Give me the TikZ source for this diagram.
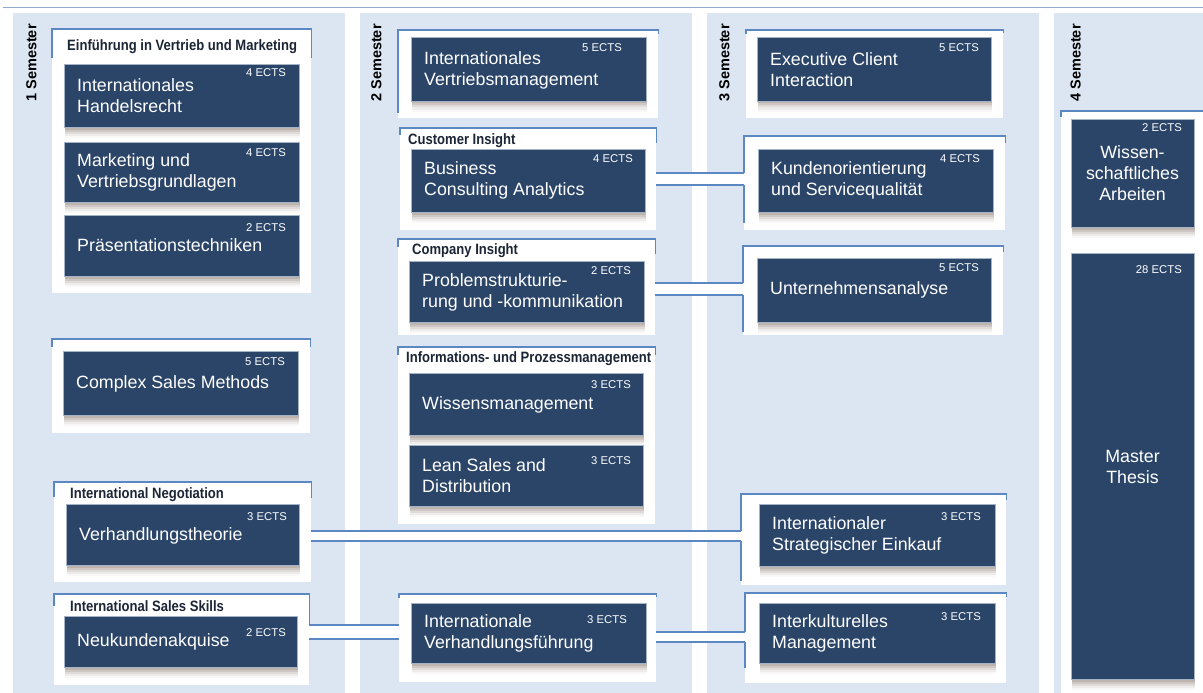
\documentclass[tikz,border=0pt]{standalone}
\usepackage{fontspec}
\setmainfont{Liberation Sans}
\newfontfamily\titlefont[FakeStretch=0.87]{Liberation Sans}
\usetikzlibrary{shadows}
\definecolor{bgblue}{HTML}{DCE6F2}
\definecolor{navy}{HTML}{2B4569}
\definecolor{lineblue}{HTML}{5B87C2}
\definecolor{topline}{HTML}{8EA9CB}
\definecolor{boxedge}{HTML}{A4B3C6}
\definecolor{shadowc}{HTML}{6B5548}
\definecolor{titlec}{HTML}{1C2535}
\tikzset{
  modbox/.style={fill=navy, draw=boxedge, line width=1pt, inner sep=0pt,
    general shadow={shadow xshift=0pt, shadow yshift=-2pt, opacity=0.16, fill=shadowc},
    general shadow={shadow xshift=0pt, shadow yshift=-4pt, opacity=0.14, fill=shadowc},
    general shadow={shadow xshift=0pt, shadow yshift=-6pt, opacity=0.11, fill=shadowc},
    general shadow={shadow xshift=0pt, shadow yshift=-8pt, opacity=0.07, fill=shadowc},
    general shadow={shadow xshift=0pt, shadow yshift=-10pt, opacity=0.04, fill=shadowc}},
  modtext/.style={text=white, font=\fontsize{17.8}{21}\selectfont, align=left, inner sep=0pt},
  ects/.style={text=white, font=\fontsize{11.3}{13}\selectfont, inner sep=0pt},
  panel/.style={fill=white, draw=none, inner sep=0pt, anchor=north west},
  grp/.style={draw=lineblue, line width=1.2pt},
  pipefill/.style={fill=white, draw=none},
  gtitle/.style={font=\titlefont\bfseries\fontsize{15}{17}\selectfont, text=titlec, inner sep=0pt, anchor=base west},
  semlabel/.style={font=\bfseries\fontsize{14.5}{16}\selectfont, rotate=90, inner sep=0pt},
  colbg/.style={fill=bgblue, draw=none},
}
\newcommand\mkmod[9]{%
  \node[modbox, minimum width=#3pt, minimum height=#4pt, anchor=north west] (#1) at (#2) {};
  \node[modtext, anchor=west] (#1t) at ([xshift=13pt,yshift=-#6pt]#1.north west) {#5};
  \node[ects, anchor=east] (#1e) at ([xshift=-#9pt,yshift=-#8pt]#1.north east) {#7};
}
\newcommand\mkpanel[5]{%
  \node[panel, minimum width=#4pt, minimum height=#5pt] (#1) at (#2,#3) {};
}
\begin{document}
\begin{tikzpicture}[x=1pt,y=-1pt]
\useasboundingbox (0,0) rectangle (1203,693);
% top line
\coordinate (tl1) at (3,7.5);
\coordinate (tl2) at (1203,7.5);
\draw[topline, line width=1.8pt] (tl1) -- (tl2);
% column backgrounds
\fill[colbg] (13,13) rectangle (345,693);
\fill[colbg] (360,13) rectangle (692,693);
\fill[colbg] (707,13) rectangle (1039,693);
\fill[colbg] (1054,13) rectangle (1203,693);
% semester labels
\node[semlabel] (s1) at (31.5,63) {1 Semester};
\node[semlabel] (s2) at (376.5,63) {2 Semester};
\node[semlabel] (s3) at (724.5,63) {3 Semester};
\node[semlabel] (s4) at (1075.5,63) {4 Semester};
% panels
\mkpanel{g1}{52}{29}{259}{264}
\mkpanel{g2}{52}{339}{258}{94}
\mkpanel{g3}{54}{482}{257}{100}
\mkpanel{g4}{54}{594}{255}{91}
\mkpanel{g5}{398}{30}{260}{88}
\mkpanel{g6}{400}{128}{256}{102}
\mkpanel{g7}{398}{239}{257}{96}
\mkpanel{g8}{398}{347}{257}{177}
\mkpanel{g9}{399}{594}{257}{88}
\mkpanel{g10}{746}{30}{257}{88}
\mkpanel{g11}{744}{136}{261}{94}
\mkpanel{g12}{743}{246}{260}{89}
\mkpanel{g13}{741}{494}{265}{91}
\mkpanel{g14}{745}{593}{261}{90}
\mkpanel{g15}{1061}{111}{142}{582}
% pipes
\path ([yshift=-45pt]g6.north east) coordinate (p1a);
\path ([yshift=-44pt]g7.north east) coordinate (p2a);
\path ([yshift=-49pt]g3.north east) coordinate (p3a);
\path ([yshift=-31pt]g4.north east) coordinate (p4a);
\path ([yshift=-38pt]g9.north east) coordinate (p5a);
\fill[pipefill] (p1a) rectangle ([yshift=-12pt]p1a -| g11.west);
\fill[pipefill] (p2a) rectangle ([yshift=-12pt]p2a -| g12.west);
\fill[pipefill] (p3a) rectangle ([yshift=-10pt]p3a -| g13.west);
\fill[pipefill] (p4a) rectangle ([yshift=-14pt]p4a -| g9.west);
\fill[pipefill] (p5a) rectangle ([yshift=-10pt]p5a -| g14.west);
% group outlines
\draw[grp] ([yshift=-29pt]g1.north west) -- (g1.north west) -- (g1.north east) -- ++(0,29);
\draw[grp] ([yshift=-8pt]g2.north west) -- (g2.north west) -- (g2.north east) -- ++(0,8);
\draw[grp] ([yshift=-15pt]g3.north west) -- (g3.north west) -- (g3.north east) -- ++(0,16);
\draw[grp] ([yshift=-12pt]g4.north west) -- (g4.north west) -- (g4.north east) -- (p4a);
\draw[grp] ([yshift=-83pt]g5.north west) -- (g5.north west) -- (g5.north east) -- ++(0,4);
\draw[grp] ([yshift=-7pt]g6.north west) -- (g6.north west) -- (g6.north east) -- ++(0,15);
\draw[grp] ([yshift=-8pt]g7.north west) -- (g7.north west) -- (g7.north east) -- ++(0,15);
\draw[grp] ([yshift=-8pt]g8.north west) -- (g8.north west) -- (g8.north east) -- ++(0,8);
\draw[grp] ([yshift=-4pt]g9.north west) -- (g9.north west) -- (g9.north east) -- ++(0,3);
\draw[grp] ([yshift=-4pt]g10.north west) -- (g10.north west) -- (g10.north east) -- ++(0,3);
\draw[grp] (p1a -| g11.west) -- (g11.north west) -- (g11.north east) -- ++(0,7);
\draw[grp] ([yshift=-12pt]p1a -| g11.west) -- ([yshift=-87pt]g11.north west);
\draw[grp] (p2a -| g12.west) -- (g12.north west) -- (g12.north east) -- ++(0,6);
\draw[grp] ([yshift=-12pt]p2a -| g12.west) -- ([yshift=-86pt]g12.north west);
\draw[grp] (p3a -| g13.west) -- (g13.north west) -- (g13.north east) -- ++(0,6);
\draw[grp] ([yshift=-10pt]p3a -| g13.west) -- ([yshift=-87pt]g13.north west);
\draw[grp] (p5a -| g14.west) -- (g14.north west) -- (g14.north east) -- ++(0,4);
\draw[grp] ([yshift=-10pt]p5a -| g14.west) -- ([yshift=-75pt]g14.north west);
\draw[grp] ([yshift=-6pt]g15.north west) -- (g15.north west) -- (g15.north east);
% pipe lines
\draw[grp] (p1a) -- (p1a -| g11.west);
\draw[grp] ([yshift=-12pt]p1a) -- ([yshift=-12pt]p1a -| g11.west);
\draw[grp] (p2a) -- (p2a -| g12.west);
\draw[grp] ([yshift=-12pt]p2a) -- ([yshift=-12pt]p2a -| g12.west);
\draw[grp] (p3a) -- (p3a -| g13.west);
\draw[grp] ([yshift=-10pt]p3a) -- ([yshift=-10pt]p3a -| g13.west);
\draw[grp] (p4a) -- (p4a -| g9.west);
\draw[grp] ([yshift=-14pt]p4a) -- ([yshift=-14pt]p4a -| g9.west);
\draw[grp] (p5a) -- (p5a -| g14.west);
\draw[grp] ([yshift=-10pt]p5a) -- ([yshift=-10pt]p5a -| g14.west);
% group titles
\node[gtitle] (t1) at (67,51) {Einführung in Vertrieb und Marketing};
\node[gtitle] (t3) at (70,498) {International Negotiation};
\node[gtitle] (t4) at (70,611) {International Sales Skills};
\node[gtitle] (t6) at (408,144) {Customer Insight};
\node[gtitle] (t7) at (412,254) {Company Insight};
\node[gtitle] (t8) at (406,362) {Informations- und Prozessmanagement};
% modules
\mkmod{nA}{64,64}{235}{63}{Internationales\\Handelsrecht}{32}{4 ECTS}{9}{14}
\mkmod{nB}{64,142}{235}{60}{Marketing und\\Vertriebsgrundlagen}{30.5}{4 ECTS}{11}{14}
\mkmod{nC}{64,215}{235}{61}{Präsentationstechniken}{30}{2 ECTS}{13}{14}
\mkmod{nD}{63,351}{235}{64}{Complex Sales Methods}{33}{5 ECTS}{11}{14}
\mkmod{nE}{66,504}{233}{61}{Verhandlungstheorie}{32}{3 ECTS}{13}{13}
\mkmod{nF}{64,616}{233}{51}{Neukundenakquise}{26}{2 ECTS}{17}{12}
\mkmod{nG}{411,37}{235}{64}{Internationales\\Vertriebsmanagement}{33.5}{5 ECTS}{11}{25}
\mkmod{nH}{411,149}{234}{63}{Business\\Consulting Analytics}{31.5}{4 ECTS}{10}{13}
\mkmod{nI}{409,261}{235}{61}{Problemstrukturie-\\rung und -kommunikation}{31}{2 ECTS}{10}{14}
\mkmod{nJ}{409,373}{234}{62}{Wissensmanagement}{32}{3 ECTS}{12}{13}
\mkmod{nK}{409,445}{234}{61}{Lean Sales and\\Distribution}{30.5}{3 ECTS}{16}{13}
\mkmod{nL}{411,603}{235}{60}{Internationale\\Verhandlungsführung}{30}{3 ECTS}{17}{20}
\mkmod{nM}{757,37}{234}{64}{Executive Client\\Interaction}{32.5}{5 ECTS}{11}{13}
\mkmod{nN}{758,149}{235}{63}{Kundenorientierung\\und Servicequalität}{31.5}{4 ECTS}{10}{14}
\mkmod{nO}{757,258}{234}{64}{Unternehmensanalyse}{32}{5 ECTS}{10}{13}
\mkmod{nP}{759,504}{236}{62}{Internationaler\\Strategischer Einkauf}{31.5}{3 ECTS}{13}{15}
\mkmod{nQ}{759,603}{236}{60}{Interkulturelles\\Management}{30.5}{3 ECTS}{14}{15}
% semester 4
\node[modbox, minimum width=123pt, minimum height=108pt, anchor=north west] (nR) at (1071,119) {};
\node[modtext, align=center] (nRt) at (1132.5,173.5) {Wissen-\\schaftliches\\Arbeiten};
\node[ects, anchor=east] (nRe) at ([xshift=-13pt,yshift=-9pt]nR.north east) {2 ECTS};
\node[modbox, minimum width=123pt, minimum height=426pt, anchor=north west] (nS) at (1071,253) {};
\node[modtext, align=center] (nSt) at (1132.5,467) {Master\\Thesis};
\node[ects, anchor=east] (nSe) at ([xshift=-13pt,yshift=-17pt]nS.north east) {28 ECTS};
\end{tikzpicture}
\end{document}
